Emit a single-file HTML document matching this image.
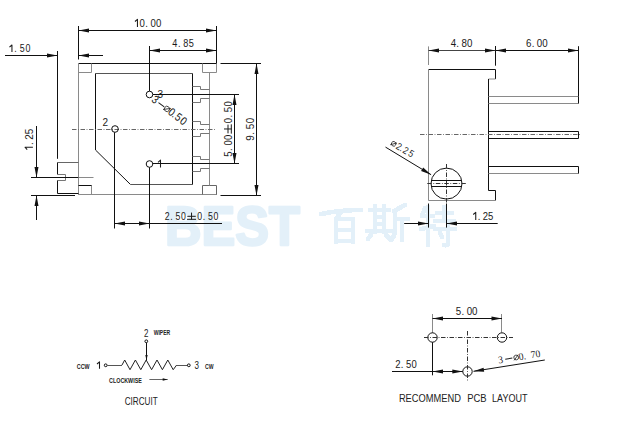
<!DOCTYPE html>
<html><head><meta charset="utf-8"><style>
html,body{margin:0;padding:0;background:#fff;width:632px;height:421px;overflow:hidden}
svg{display:block}
text{font-family:"Liberation Sans",sans-serif}
</style></head><body>
<svg width="632" height="421" viewBox="0 0 632 421" shape-rendering="crispEdges">
<rect width="632" height="421" fill="#fff"/>
<g id="wm" fill="#e3f0f9" font-family="Liberation Sans" font-weight="bold">
<text x="165" y="245" font-size="55" textLength="135" lengthAdjust="spacingAndGlyphs" font-weight="bold" stroke="#e3f0f9" stroke-width="2.5" stroke-linejoin="round">BEST</text>
</g>
<g fill="none" stroke="#e3f0f9" stroke-width="4.6" stroke-linecap="round" stroke-linejoin="round">
<path d="M321,214 Q340,210 361,210 M341,212 L336,219 M336,219 V242 M336,219 H353 V242 M337,230 H352 M337,241 H352"/>
<path d="M370,210 H389 M375,206 V232 M384,206 V232 M376,217 H384 M376,224 H384 M367,231 H391 M371,235 L368,239 M386,235 L390,239 M405,205 L394,211 M395,211 V230 Q395,236 391,240 M395,219 H408 M402,219 V240"/>
<path d="M425,208 L422,216 M422,216 H433 M428,207 V245 M421,229 L434,226 M437,213 H452 M444,207 V221 M435,221 H454 M435,229 H455 M448,224 V243 Q448,246 444,245 M440,233 L442,237"/>
</g>
<g shape-rendering="geometricPrecision">
<line x1="78.5" y1="63.5" x2="216.5" y2="63.5" stroke="#111" stroke-width="1" />
<line x1="78.5" y1="63.5" x2="78.5" y2="195" stroke="#8a8a8a" stroke-width="1" />
<line x1="78.5" y1="194.5" x2="217" y2="194.5" stroke="#8a8a8a" stroke-width="1" />
<path d="M78.5,72.5 H91.5 V63.5" stroke="#8a8a8a" stroke-width="1" fill="none"/>
<path d="M202.5,63.5 V72.5 H216.5 V63.5" stroke="#8a8a8a" stroke-width="1" fill="none"/>
<path d="M78.5,185.5 H91.5 V194.5" stroke="#8a8a8a" stroke-width="1" fill="none"/>
<line x1="78.5" y1="185.5" x2="91.5" y2="185.5" stroke="#111" stroke-width="1" />
<path d="M202.5,194.5 V185.5 H216.5 V194.5" stroke="#666" stroke-width="1" fill="none"/>
<line x1="209.5" y1="72.5" x2="209.5" y2="185.5" stroke="#8a8a8a" stroke-width="1" />
<line x1="95.5" y1="73.5" x2="192.5" y2="73.5" stroke="#555" stroke-width="1" />
<line x1="95.5" y1="73.5" x2="95.5" y2="150" stroke="#111" stroke-width="1" />
<line x1="95.5" y1="150" x2="130.5" y2="184.5" stroke="#111" stroke-width="1" />
<line x1="130.5" y1="184.5" x2="192.5" y2="184.5" stroke="#555" stroke-width="1" />
<line x1="192.5" y1="73.5" x2="192.5" y2="184.5" stroke="#111" stroke-width="1" />
<path d="M192.5,86.5 H200.5 V89.5 H209.5" stroke="#777" stroke-width="1" fill="none"/>
<path d="M192.5,102.5 H200.5 V98.5 H209.5" stroke="#777" stroke-width="1" fill="none"/>
<path d="M192.5,121.5 H200.5 V124.5 H209.5" stroke="#777" stroke-width="1" fill="none"/>
<path d="M192.5,136.5 H200.5 V133.5 H209.5" stroke="#777" stroke-width="1" fill="none"/>
<path d="M192.5,156.5 H200.5 V159.5 H209.5" stroke="#777" stroke-width="1" fill="none"/>
<path d="M192.5,171.5 H200.5 V168.5 H209.5" stroke="#777" stroke-width="1" fill="none"/>
<line x1="57.5" y1="162.5" x2="78.5" y2="162.5" stroke="#666" stroke-width="1" />
<path d="M57.5,162.5 V174.5" stroke="#111" stroke-width="1" fill="none"/>
<path d="M57.5,174.5 H65.5 V180.5 H57.5" stroke="#777" stroke-width="1" fill="none"/>
<path d="M57.5,180.5 V193.5 H78.5" stroke="#111" stroke-width="1" fill="none"/>
<line x1="72" y1="129.5" x2="216" y2="129.5" stroke="#666" stroke-width="1" stroke-dasharray="4.5 1.6 0.8 1.6"/>
<circle cx="149.5" cy="94.5" r="3.3" stroke="#111" stroke-width="1" fill="none"/>
<circle cx="115" cy="129" r="3.3" stroke="#111" stroke-width="1" fill="none"/>
<circle cx="149.5" cy="164" r="3.3" stroke="#111" stroke-width="1" fill="none"/>
<text x="157.5" y="97.8" font-size="10" fill="#222" font-weight="normal" font-family="Liberation Sans" text-anchor="start">3</text>
<text x="102.5" y="125.8" font-size="10" fill="#222" font-weight="normal" font-family="Liberation Sans" text-anchor="start">2</text>
<g transform="translate(0,167.5)" fill="#1a1a1a" font-size="10.76" font-family="Liberation Sans"><path d="M160.50,0 V-7.40 L158.00,-5.20" stroke="#1a1a1a" stroke-width="1.05" fill="none" stroke-linejoin="round"/></g>
<g transform="translate(151.1,101.4) rotate(37)" fill="#1a1a1a" font-size="11.34" font-family="Liberation Sans"><text transform="translate(2.25,0) scale(0.86,1)" text-anchor="middle" style="font-family:'Liberation Sans'">3</text><path d="M6.60,-3.51 H13.80" stroke="#1a1a1a" stroke-width="1" fill="none"/><circle cx="17.20" cy="-3.51" r="2.65" stroke="#1a1a1a" stroke-width="0.75" fill="none"/><path d="M14.42,-0.73 L19.98,-6.29" stroke="#1a1a1a" stroke-width="0.75"/><text transform="translate(22.80,0) scale(0.86,1)" text-anchor="middle" style="font-family:'Liberation Sans'">0</text><text transform="translate(26.50,0) scale(0.86,1)" text-anchor="middle" style="font-family:'Liberation Sans'">.</text><text transform="translate(31.30,0) scale(0.86,1)" text-anchor="middle" style="font-family:'Liberation Sans'">5</text><text transform="translate(37.60,0) scale(0.86,1)" text-anchor="middle" style="font-family:'Liberation Sans'">0</text></g>
<line x1="78.5" y1="26" x2="78.5" y2="59.5" stroke="#111" stroke-width="1" />
<line x1="216.5" y1="26" x2="216.5" y2="63.5" stroke="#111" stroke-width="1" />
<line x1="78.5" y1="30.5" x2="216.5" y2="30.5" stroke="#111" stroke-width="1" />
<path d="M78.50,30.50 L89.00,28.50 L89.00,32.50 Z" fill="#111" stroke="none"/>
<path d="M216.50,30.50 L206.00,32.50 L206.00,28.50 Z" fill="#111" stroke="none"/>
<g transform="translate(134.3,27.0)" fill="#1a1a1a" font-size="11.19"><path d="M3.15,0 V-7.70 L0.65,-5.50" stroke="#1a1a1a" stroke-width="1.05" fill="none" stroke-linejoin="round"/><text transform="translate(7.80,0) scale(0.86,1)" text-anchor="middle">0</text><text transform="translate(12.25,0) scale(0.86,1)" text-anchor="middle">.</text><text transform="translate(18.90,0) scale(0.86,1)" text-anchor="middle">0</text><text transform="translate(24.45,0) scale(0.86,1)" text-anchor="middle">0</text></g>
<line x1="149.5" y1="46" x2="149.5" y2="91.2" stroke="#111" stroke-width="1" />
<line x1="149.5" y1="50.5" x2="216.5" y2="50.5" stroke="#111" stroke-width="1" />
<path d="M149.50,50.50 L160.00,48.50 L160.00,52.50 Z" fill="#111" stroke="none"/>
<path d="M216.50,50.50 L206.00,52.50 L206.00,48.50 Z" fill="#111" stroke="none"/>
<g transform="translate(172.6,46.6)" fill="#1a1a1a" font-size="10.61"><text transform="translate(2.25,0) scale(0.86,1)" text-anchor="middle">4</text><text transform="translate(6.65,0) scale(0.86,1)" text-anchor="middle">.</text><text transform="translate(13.25,0) scale(0.86,1)" text-anchor="middle">8</text><text transform="translate(18.75,0) scale(0.86,1)" text-anchor="middle">5</text></g>
<line x1="5" y1="55.5" x2="57.5" y2="55.5" stroke="#111" stroke-width="1" />
<path d="M57.50,55.50 L47.00,57.50 L47.00,53.50 Z" fill="#111" stroke="none"/>
<line x1="78.5" y1="55.5" x2="103" y2="55.5" stroke="#111" stroke-width="1" />
<path d="M78.50,55.50 L89.00,53.50 L89.00,57.50 Z" fill="#111" stroke="none"/>
<line x1="57.5" y1="51" x2="57.5" y2="158.8" stroke="#111" stroke-width="1" />
<g transform="translate(8.8,52.1)" fill="#1a1a1a" font-size="10.32"><path d="M3.15,0 V-7.10 L0.65,-4.90" stroke="#1a1a1a" stroke-width="1.05" fill="none" stroke-linejoin="round"/><text transform="translate(6.75,0) scale(0.86,1)" text-anchor="middle">.</text><text transform="translate(13.45,0) scale(0.86,1)" text-anchor="middle">5</text><text transform="translate(19.05,0) scale(0.86,1)" text-anchor="middle">0</text></g>
<line x1="152.8" y1="94.5" x2="239" y2="94.5" stroke="#111" stroke-width="1" />
<line x1="152.8" y1="163.5" x2="239" y2="163.5" stroke="#111" stroke-width="1" />
<line x1="114.5" y1="132.3" x2="114.5" y2="228.5" stroke="#111" stroke-width="1" />
<line x1="149.5" y1="167.3" x2="149.5" y2="228.5" stroke="#111" stroke-width="1" />
<line x1="234.5" y1="94.5" x2="234.5" y2="163.5" stroke="#111" stroke-width="1" />
<path d="M234.50,94.50 L236.50,105.00 L232.50,105.00 Z" fill="#111" stroke="none"/>
<path d="M234.50,163.50 L232.50,153.00 L236.50,153.00 Z" fill="#111" stroke="none"/>
<g transform="translate(231.6,156.3) rotate(-90)" fill="#1a1a1a" font-size="11.05"><text transform="translate(2.25,0) scale(0.86,1)" text-anchor="middle">5</text><text transform="translate(6.72,0) scale(0.86,1)" text-anchor="middle">.</text><text transform="translate(13.39,0) scale(0.86,1)" text-anchor="middle">0</text><text transform="translate(18.96,0) scale(0.86,1)" text-anchor="middle">0</text><path d="M27.32,-7.60 V0 M22.95,-3.60 H31.68 M22.65,-0.3 H31.98" stroke="#1a1a1a" stroke-width="1" fill="none"/><text transform="translate(35.67,0) scale(0.86,1)" text-anchor="middle">0</text><text transform="translate(40.14,0) scale(0.86,1)" text-anchor="middle">.</text><text transform="translate(46.81,0) scale(0.86,1)" text-anchor="middle">5</text><text transform="translate(52.38,0) scale(0.86,1)" text-anchor="middle">0</text></g>
<line x1="220.5" y1="63.5" x2="261" y2="63.5" stroke="#111" stroke-width="1" />
<line x1="220.5" y1="195.5" x2="261" y2="195.5" stroke="#111" stroke-width="1" />
<line x1="256.5" y1="63.5" x2="256.5" y2="195.5" stroke="#111" stroke-width="1" />
<path d="M256.50,63.50 L258.50,74.00 L254.50,74.00 Z" fill="#111" stroke="none"/>
<path d="M256.50,195.50 L254.50,185.00 L258.50,185.00 Z" fill="#111" stroke="none"/>
<g transform="translate(253.7,140.3) rotate(-90)" fill="#1a1a1a" font-size="11.48"><text transform="translate(2.25,0) scale(0.86,1)" text-anchor="middle">9</text><text transform="translate(6.98,0) scale(0.86,1)" text-anchor="middle">.</text><text transform="translate(13.91,0) scale(0.86,1)" text-anchor="middle">5</text><text transform="translate(19.74,0) scale(0.86,1)" text-anchor="middle">0</text></g>
<line x1="31" y1="177.5" x2="78.5" y2="177.5" stroke="#111" stroke-width="1" />
<line x1="78.5" y1="177.5" x2="93.5" y2="177.5" stroke="#8a8a8a" stroke-width="1" />
<line x1="31" y1="195.5" x2="75" y2="195.5" stroke="#111" stroke-width="1" />
<line x1="36.5" y1="126" x2="36.5" y2="177.5" stroke="#111" stroke-width="1" />
<path d="M36.50,177.50 L34.50,167.00 L38.50,167.00 Z" fill="#111" stroke="none"/>
<line x1="36.5" y1="220" x2="36.5" y2="195.5" stroke="#111" stroke-width="1" />
<path d="M36.50,195.50 L38.50,206.00 L34.50,206.00 Z" fill="#111" stroke="none"/>
<g transform="translate(32.9,150.3) rotate(-90)" fill="#1a1a1a" font-size="11.48"><path d="M3.15,0 V-7.90 L0.65,-5.70" stroke="#1a1a1a" stroke-width="1.05" fill="none" stroke-linejoin="round"/><text transform="translate(6.65,0) scale(0.86,1)" text-anchor="middle">.</text><text transform="translate(13.25,0) scale(0.86,1)" text-anchor="middle">2</text><text transform="translate(18.75,0) scale(0.86,1)" text-anchor="middle">5</text></g>
<line x1="114.5" y1="223.5" x2="222" y2="223.5" stroke="#111" stroke-width="1" />
<path d="M114.50,223.50 L125.00,221.50 L125.00,225.50 Z" fill="#111" stroke="none"/>
<path d="M149.50,223.50 L139.00,225.50 L139.00,221.50 Z" fill="#111" stroke="none"/>
<g transform="translate(164.9,219.6)" fill="#1a1a1a" font-size="10.17"><text transform="translate(2.25,0) scale(0.86,1)" text-anchor="middle">2</text><text transform="translate(6.57,0) scale(0.86,1)" text-anchor="middle">.</text><text transform="translate(13.09,0) scale(0.86,1)" text-anchor="middle">5</text><text transform="translate(18.51,0) scale(0.86,1)" text-anchor="middle">0</text><path d="M26.64,-7.00 V0 M22.42,-3.30 H30.86 M22.12,-0.3 H31.16" stroke="#1a1a1a" stroke-width="1" fill="none"/><text transform="translate(34.77,0) scale(0.86,1)" text-anchor="middle">0</text><text transform="translate(39.09,0) scale(0.86,1)" text-anchor="middle">.</text><text transform="translate(45.61,0) scale(0.86,1)" text-anchor="middle">5</text><text transform="translate(51.03,0) scale(0.86,1)" text-anchor="middle">0</text></g>
<line x1="428.5" y1="69.5" x2="495.5" y2="69.5" stroke="#111" stroke-width="1" />
<line x1="428.5" y1="69.5" x2="428.5" y2="200.5" stroke="#8a8a8a" stroke-width="1" />
<line x1="495.5" y1="69.5" x2="495.5" y2="79" stroke="#111" stroke-width="1" />
<line x1="488.5" y1="79" x2="495.5" y2="79" stroke="#8a8a8a" stroke-width="1" />
<line x1="488.5" y1="79" x2="488.5" y2="190.5" stroke="#111" stroke-width="1" />
<path d="M488.5,190.5 H495.5 V200.5" stroke="#111" stroke-width="1" fill="none"/>
<line x1="428.5" y1="200.5" x2="495.5" y2="200.5" stroke="#8a8a8a" stroke-width="1" />
<line x1="488.5" y1="96.5" x2="578.5" y2="96.5" stroke="#8a8a8a" stroke-width="1" />
<line x1="488.5" y1="103.5" x2="578.5" y2="103.5" stroke="#8a8a8a" stroke-width="1" />
<line x1="578.5" y1="96.5" x2="578.5" y2="103.5" stroke="#111" stroke-width="1" />
<line x1="488.5" y1="131.5" x2="578.5" y2="131.5" stroke="#111" stroke-width="1" />
<line x1="488.5" y1="138.5" x2="578.5" y2="138.5" stroke="#111" stroke-width="1" />
<line x1="578.5" y1="131.5" x2="578.5" y2="138.5" stroke="#111" stroke-width="1" />
<line x1="488.5" y1="166.5" x2="578.5" y2="166.5" stroke="#111" stroke-width="1" />
<line x1="488.5" y1="173.5" x2="578.5" y2="173.5" stroke="#8a8a8a" stroke-width="1" />
<line x1="578.5" y1="166.5" x2="578.5" y2="173.5" stroke="#111" stroke-width="1" />
<line x1="420" y1="134.5" x2="581" y2="134.5" stroke="#666" stroke-width="1" stroke-dasharray="4.5 1.6 0.8 1.6"/>
<line x1="428.5" y1="46.4" x2="428.5" y2="65" stroke="#8a8a8a" stroke-width="1" />
<line x1="495.5" y1="46" x2="495.5" y2="65.7" stroke="#111" stroke-width="1" />
<line x1="428.5" y1="50.5" x2="495.5" y2="50.5" stroke="#444" stroke-width="1" />
<path d="M428.50,50.50 L439.00,48.50 L439.00,52.50 Z" fill="#111" stroke="none"/>
<path d="M495.50,50.50 L485.00,52.50 L485.00,48.50 Z" fill="#111" stroke="none"/>
<g transform="translate(451.1,46.9)" fill="#1a1a1a" font-size="11.34"><text transform="translate(2.25,0) scale(0.86,1)" text-anchor="middle">4</text><text transform="translate(6.60,0) scale(0.86,1)" text-anchor="middle">.</text><text transform="translate(13.15,0) scale(0.86,1)" text-anchor="middle">8</text><text transform="translate(18.60,0) scale(0.86,1)" text-anchor="middle">0</text></g>
<line x1="495.5" y1="50.5" x2="578.5" y2="50.5" stroke="#111" stroke-width="1" />
<path d="M495.50,50.50 L506.00,48.50 L506.00,52.50 Z" fill="#111" stroke="none"/>
<path d="M578.50,50.50 L568.00,52.50 L568.00,48.50 Z" fill="#111" stroke="none"/>
<line x1="578.5" y1="46.2" x2="578.5" y2="96.5" stroke="#111" stroke-width="1" />
<g transform="translate(526.5,46.9)" fill="#1a1a1a" font-size="11.34"><text transform="translate(2.25,0) scale(0.86,1)" text-anchor="middle">6</text><text transform="translate(6.53,0) scale(0.86,1)" text-anchor="middle">.</text><text transform="translate(13.01,0) scale(0.86,1)" text-anchor="middle">0</text><text transform="translate(18.39,0) scale(0.86,1)" text-anchor="middle">0</text></g>
<circle cx="446.5" cy="183.6" r="15.5" stroke="#111" stroke-width="1" fill="none"/>
<line x1="431.2" y1="180.5" x2="461.4" y2="180.5" stroke="#111" stroke-width="1" />
<line x1="431.2" y1="186.5" x2="461.4" y2="186.5" stroke="#111" stroke-width="1" />
<line x1="446.5" y1="164" x2="446.5" y2="203" stroke="#333" stroke-width="1" stroke-dasharray="4.5 1.6 0.8 1.6"/>
<line x1="446.5" y1="203.5" x2="446.5" y2="227.6" stroke="#111" stroke-width="1" />
<line x1="427.3" y1="183.5" x2="466.3" y2="183.5" stroke="#333" stroke-width="1" stroke-dasharray="4.5 1.6 0.8 1.6"/>
<line x1="385.5" y1="147.1" x2="431.1" y2="174.7" stroke="#111" stroke-width="1" />
<path d="M431.10,174.70 L421.08,170.97 L423.15,167.55 Z" fill="#111" stroke="none"/>
<g transform="translate(390.4,145.5) rotate(30)" fill="#1a1a1a" font-size="9.88" font-family="Liberation Sans"><circle cx="2.00" cy="-3.06" r="2.31" stroke="#1a1a1a" stroke-width="0.75" fill="none"/><path d="M-0.43,-0.63 L4.43,-5.49" stroke="#1a1a1a" stroke-width="0.75"/><text transform="translate(7.90,0) scale(0.86,1)" text-anchor="middle" style="font-family:'Liberation Sans'">2</text><text transform="translate(11.40,0) scale(0.86,1)" text-anchor="middle" style="font-family:'Liberation Sans'">.</text><text transform="translate(15.80,0) scale(0.86,1)" text-anchor="middle" style="font-family:'Liberation Sans'">2</text><text transform="translate(22.10,0) scale(0.86,1)" text-anchor="middle" style="font-family:'Liberation Sans'">5</text></g>
<line x1="428.5" y1="203.5" x2="428.5" y2="227.6" stroke="#111" stroke-width="1" />
<line x1="404.2" y1="223.5" x2="428.5" y2="223.5" stroke="#111" stroke-width="1" />
<path d="M428.50,223.50 L418.00,225.50 L418.00,221.50 Z" fill="#111" stroke="none"/>
<line x1="446.5" y1="223.5" x2="497.7" y2="223.5" stroke="#111" stroke-width="1" />
<path d="M446.50,223.50 L457.00,221.50 L457.00,225.50 Z" fill="#111" stroke="none"/>
<g transform="translate(472.6,219.9)" fill="#1a1a1a" font-size="11.05"><path d="M3.15,0 V-7.60 L0.65,-5.40" stroke="#1a1a1a" stroke-width="1.05" fill="none" stroke-linejoin="round"/><text transform="translate(6.40,0) scale(0.86,1)" text-anchor="middle">.</text><text transform="translate(12.75,0) scale(0.86,1)" text-anchor="middle">2</text><text transform="translate(18.00,0) scale(0.86,1)" text-anchor="middle">5</text></g>
<text x="76.8" y="368.8" font-size="7" fill="#222" font-weight="bold" font-family="Liberation Sans" text-anchor="start" textLength="12.8" lengthAdjust="spacingAndGlyphs">CCW</text>
<g transform="translate(0,368.7)" fill="#1a1a1a" font-size="10.03" font-family="Liberation Sans"><path d="M99.50,0 V-6.90 L97.00,-4.70" stroke="#1a1a1a" stroke-width="1.05" fill="none" stroke-linejoin="round"/></g>
<circle cx="105.7" cy="365.3" r="1.4" stroke="#111" stroke-width="1" fill="none"/>
<line x1="107.1" y1="365.5" x2="122" y2="365.5" stroke="#555" stroke-width="1" />
<path d="M122,365 L124.7,360 L130,369.7 L135.4,360 L140.8,369.7 L146.2,360 L151.6,369.7 L157,360 L162.4,369.7 L167.8,360 L173.2,369.7 L176.7,365" stroke="#222" stroke-width="1" fill="none"/>
<line x1="176.7" y1="365.5" x2="187.4" y2="365.5" stroke="#555" stroke-width="1" />
<circle cx="188.8" cy="365.3" r="1.4" stroke="#111" stroke-width="1" fill="none"/>
<g transform="translate(0,369.3)" fill="#1a1a1a" font-size="10.76" font-family="Liberation Sans"><text transform="translate(196.70,0) scale(0.75,1)" text-anchor="middle" style="font-family:'Liberation Sans'">3</text></g>
<text x="205" y="368.8" font-size="7" fill="#222" font-weight="bold" font-family="Liberation Sans" text-anchor="start" textLength="8.5" lengthAdjust="spacingAndGlyphs">CW</text>
<g transform="translate(0,336.6)" fill="#1a1a1a" font-size="10.61" font-family="Liberation Sans"><text transform="translate(146.20,0) scale(0.75,1)" text-anchor="middle" style="font-family:'Liberation Sans'">2</text></g>
<text x="153.7" y="335.2" font-size="6.5" fill="#222" font-weight="bold" font-family="Liberation Sans" text-anchor="start" textLength="16.5" lengthAdjust="spacingAndGlyphs">WIPER</text>
<circle cx="146.3" cy="341.3" r="1.4" stroke="#111" stroke-width="1" fill="none"/>
<line x1="146.5" y1="342.7" x2="146.5" y2="360" stroke="#111" stroke-width="1" />
<path d="M146.50,360.00 L145.30,355.00 L147.70,355.00 Z" fill="#111" stroke="none"/>
<text x="109.1" y="382.8" font-size="7.2" fill="#222" font-weight="bold" font-family="Liberation Sans" text-anchor="start" textLength="32.7" lengthAdjust="spacingAndGlyphs">CLOCKWISE</text>
<line x1="149.4" y1="379.5" x2="167.7" y2="379.5" stroke="#666" stroke-width="1" />
<path d="M167.70,379.50 L162.70,380.70 L162.70,378.30 Z" fill="#111" stroke="none"/>
<text x="124.7" y="405" font-size="10.5" fill="#222" font-weight="normal" font-family="Liberation Sans" text-anchor="start" textLength="33" lengthAdjust="spacingAndGlyphs">CIRCUIT</text>
<line x1="432.5" y1="314" x2="432.5" y2="333" stroke="#8a8a8a" stroke-width="1" />
<line x1="501.5" y1="314" x2="501.5" y2="332.5" stroke="#8a8a8a" stroke-width="1" />
<line x1="432.5" y1="318.5" x2="502" y2="318.5" stroke="#111" stroke-width="1" />
<path d="M432.50,318.50 L443.00,316.50 L443.00,320.50 Z" fill="#111" stroke="none"/>
<path d="M502.00,318.50 L491.50,320.50 L491.50,316.50 Z" fill="#111" stroke="none"/>
<g transform="translate(456.3,314.9)" fill="#1a1a1a" font-size="11.34"><text transform="translate(2.25,0) scale(0.86,1)" text-anchor="middle">5</text><text transform="translate(6.55,0) scale(0.86,1)" text-anchor="middle">.</text><text transform="translate(13.05,0) scale(0.86,1)" text-anchor="middle">0</text><text transform="translate(18.45,0) scale(0.86,1)" text-anchor="middle">0</text></g>
<circle cx="432.5" cy="337.5" r="4.7" stroke="#111" stroke-width="1" fill="none"/>
<circle cx="502" cy="337.5" r="4.7" stroke="#111" stroke-width="1" fill="none"/>
<circle cx="467.5" cy="371.5" r="4.7" stroke="#111" stroke-width="1" fill="none"/>
<line x1="424" y1="337.5" x2="513" y2="337.5" stroke="#333" stroke-width="1" stroke-dasharray="4.5 1.6 0.8 1.6"/>
<line x1="467.5" y1="331" x2="467.5" y2="381.7" stroke="#333" stroke-width="1" stroke-dasharray="4.5 1.6 0.8 1.6"/>
<line x1="432.5" y1="342.2" x2="432.5" y2="375.3" stroke="#111" stroke-width="1" />
<line x1="392" y1="371.5" x2="432.5" y2="371.5" stroke="#111" stroke-width="1" />
<line x1="432.5" y1="371.5" x2="462.8" y2="371.5" stroke="#111" stroke-width="1" />
<path d="M432.50,371.50 L443.00,369.50 L443.00,373.50 Z" fill="#111" stroke="none"/>
<path d="M462.80,371.50 L452.30,373.50 L452.30,369.50 Z" fill="#111" stroke="none"/>
<g transform="translate(395.6,367.9)" fill="#1a1a1a" font-size="11.05"><text transform="translate(2.25,0) scale(0.86,1)" text-anchor="middle">2</text><text transform="translate(6.55,0) scale(0.86,1)" text-anchor="middle">.</text><text transform="translate(13.05,0) scale(0.86,1)" text-anchor="middle">5</text><text transform="translate(18.45,0) scale(0.86,1)" text-anchor="middle">0</text></g>
<line x1="473.5" y1="371.3" x2="544.8" y2="360" stroke="#111" stroke-width="1" />
<path d="M473.50,371.30 L483.56,367.68 L484.18,371.63 Z" fill="#111" stroke="none"/>
<g transform="translate(499,363.4) rotate(-9)" fill="#1a1a1a" font-size="10.17" font-family="Liberation Serif"><text transform="translate(2.25,0) scale(0.95,1)" text-anchor="middle" style="font-family:'Liberation Serif'">3</text><path d="M6.80,-3.15 H14.00" stroke="#1a1a1a" stroke-width="1" fill="none"/><circle cx="17.90" cy="-3.15" r="2.38" stroke="#1a1a1a" stroke-width="0.75" fill="none"/><path d="M15.40,-0.65 L20.40,-5.65" stroke="#1a1a1a" stroke-width="0.75"/><text transform="translate(22.90,0) scale(0.95,1)" text-anchor="middle" style="font-family:'Liberation Serif'">0</text><text transform="translate(26.50,0) scale(0.95,1)" text-anchor="middle" style="font-family:'Liberation Serif'">.</text><text transform="translate(35.00,0) scale(0.95,1)" text-anchor="middle" style="font-family:'Liberation Serif'">7</text><text transform="translate(39.90,0) scale(0.95,1)" text-anchor="middle" style="font-family:'Liberation Serif'">0</text></g>
<text x="398.9" y="402.3" font-size="10.47" fill="#222" font-weight="normal" font-family="Liberation Sans" text-anchor="start" textLength="62" lengthAdjust="spacingAndGlyphs">RECOMMEND</text>
<text x="467.2" y="402.3" font-size="10.47" fill="#222" font-weight="normal" font-family="Liberation Sans" text-anchor="start" textLength="19.4" lengthAdjust="spacingAndGlyphs">PCB</text>
<text x="492.1" y="402.3" font-size="10.47" fill="#222" font-weight="normal" font-family="Liberation Sans" text-anchor="start" textLength="35.5" lengthAdjust="spacingAndGlyphs">LAYOUT</text>
</g>
</svg>
</body></html>
